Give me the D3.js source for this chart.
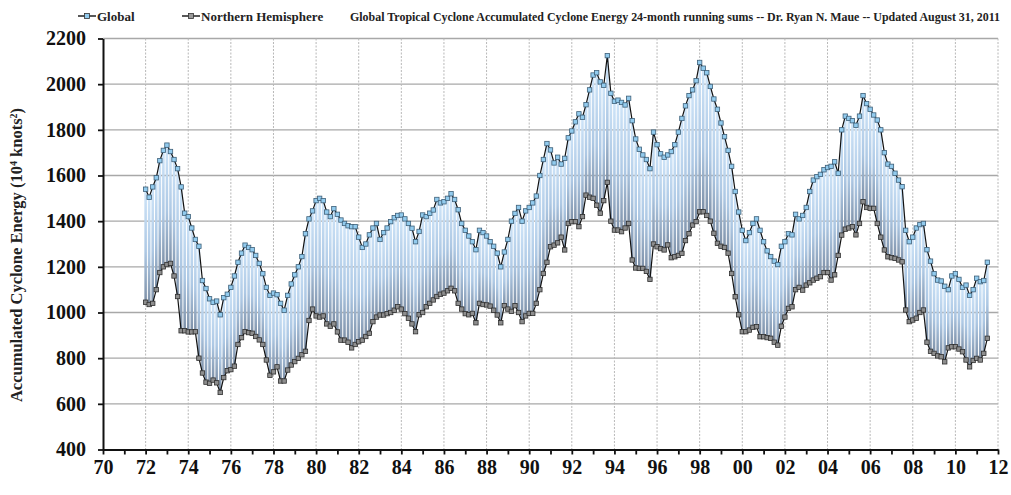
<!DOCTYPE html>
<html>
<head>
<meta charset="utf-8">
<script src="https://cdn.jsdelivr.net/npm/d3@7"></script>
<style>
  body { margin: 0; background: #fff; }
  svg { display: block; font-family: 'Liberation Serif', 'DejaVu Serif', serif; }
</style>
</head>
<body>
<div id="chart"></div>
<script>
// ACE 24-month running sums, one value every 2 months (Jan, Mar, May, Jul, Sep, Nov)
const firstYear = 1972;
const stepsPerYear = 6;

const globalAce = [
  1540, 1505, 1550, 1590, 1665, 1710, // 1972
  1733, 1705, 1670, 1630, 1550, 1435, // 1973
  1420, 1370, 1320, 1290, 1140, 1105, // 1974
  1060, 1045, 1050, 990, 1065, 1080,  // 1975
  1110, 1160, 1220, 1260, 1295, 1285, // 1976
  1275, 1250, 1215, 1170, 1110, 1075, // 1977
  1085, 1078, 1040, 1010, 1075, 1125, // 1978
  1165, 1200, 1245, 1345, 1410, 1445, // 1979
  1490, 1500, 1490, 1440, 1420, 1455, // 1980
  1430, 1405, 1390, 1380, 1376, 1376, // 1981
  1330, 1285, 1300, 1340, 1370, 1390, // 1982
  1320, 1350, 1370, 1398, 1415, 1425, // 1983
  1427, 1410, 1390, 1369, 1310, 1355, // 1984
  1427, 1420, 1435, 1449, 1495, 1480, // 1985
  1485, 1500, 1520, 1495, 1450, 1390, // 1986
  1360, 1335, 1310, 1275, 1360, 1350, // 1987
  1335, 1310, 1290, 1260, 1200, 1265, // 1988
  1320, 1400, 1434, 1460, 1400, 1445, // 1989
  1460, 1480, 1510, 1600, 1670, 1740, // 1990
  1712, 1655, 1680, 1650, 1675, 1765, // 1991
  1795, 1835, 1870, 1855, 1910, 1975, // 1992
  2040, 2050, 2010, 1995, 2125, 1960, // 1993
  1925, 1930, 1920, 1909, 1938, 1840, // 1994
  1760, 1715, 1690, 1670, 1630, 1790, // 1995
  1735, 1695, 1680, 1690, 1705, 1735, // 1996
  1790, 1850, 1905, 1950, 1975, 2015, // 1997
  2095, 2070, 2050, 1990, 1935, 1890, // 1998
  1830, 1770, 1710, 1640, 1530, 1440, // 1999
  1360, 1315, 1350, 1390, 1410, 1360, // 2000
  1310, 1270, 1245, 1225, 1210, 1290, // 2001
  1310, 1345, 1340, 1430, 1410, 1425, // 2002
  1460, 1530, 1580, 1595, 1605, 1625, // 2003
  1635, 1640, 1660, 1610, 1800, 1860, // 2004
  1850, 1840, 1820, 1860, 1950, 1915, // 2005
  1890, 1865, 1843, 1800, 1700, 1650, // 2006
  1640, 1610, 1580, 1551, 1360, 1310, // 2007
  1330, 1370, 1385, 1390, 1275, 1225, // 2008
  1170, 1142, 1138, 1115, 1100, 1160, // 2009
  1170, 1145, 1110, 1120, 1075, 1100, // 2010
  1150, 1135, 1140, 1220              // 2011
];

const nhAce = [
  1045, 1035, 1040, 1100, 1175, 1200, // 1972
  1210, 1215, 1160, 1070, 920, 920,   // 1973
  915, 915, 916, 800, 735, 695,       // 1974
  690, 704, 692, 650, 715, 745,       // 1975
  750, 765, 860, 890, 916, 912,       // 1976
  909, 895, 880, 860, 792, 725,       // 1977
  740, 762, 700, 700, 748, 770,       // 1978
  785, 799, 815, 830, 965, 1015,      // 1979
  985, 980, 985, 950, 940, 950,       // 1980
  915, 879, 879, 870, 845, 860,       // 1981
  872, 879, 895, 909, 960, 980,       // 1982
  989, 989, 995, 1000, 1010, 1025,    // 1983
  1015, 995, 975, 950, 916, 990,      // 1984
  1000, 1025, 1040, 1055, 1070, 1080, // 1985
  1085, 1095, 1106, 1095, 1040, 1015, // 1986
  995, 990, 996, 955, 1040, 1035,     // 1987
  1033, 1028, 1010, 989, 955, 1030,   // 1988
  1015, 1005, 1030, 1000, 960, 985,   // 1989
  996, 996, 1040, 1100, 1171, 1220,   // 1990
  1288, 1295, 1305, 1330, 1274, 1390, // 1991
  1398, 1398, 1376, 1420, 1514, 1505, // 1992
  1500, 1470, 1435, 1490, 1570, 1400, // 1993
  1361, 1361, 1354, 1370, 1390, 1230, // 1994
  1195, 1193, 1193, 1180, 1145, 1300, // 1995
  1288, 1280, 1274, 1296, 1240, 1244, // 1996
  1250, 1259, 1315, 1345, 1383, 1398, // 1997
  1441, 1441, 1425, 1400, 1347, 1303, // 1998
  1290, 1285, 1260, 1171, 1069, 990,  // 1999
  916, 916, 923, 935, 938, 894,       // 2000
  894, 890, 887, 870, 857, 940,       // 2001
  980, 1018, 1025, 1100, 1110, 1098,  // 2002
  1120, 1130, 1142, 1150, 1157, 1175, // 2003
  1175, 1142, 1165, 1250, 1339, 1365, // 2004
  1370, 1376, 1340, 1390, 1485, 1460, // 2005
  1456, 1456, 1390, 1330, 1274, 1244, // 2006
  1240, 1237, 1230, 1222, 1011, 960,  // 2007
  967, 975, 1000, 1011, 870, 830,     // 2008
  821, 810, 806, 784, 845, 850,       // 2009
  850, 840, 828, 792, 762, 790,       // 2010
  799, 792, 821, 887                  // 2011
];

const yTicks = [400, 600, 800, 1000, 1200, 1400, 1600, 1800, 2000, 2200];
const xTickYears = d3.range(1970, 2013);      // a tick every year
const xLabelYears = d3.range(1970, 2013, 2);  // labels every 2 years
const seriesNames = ['Global', 'Northern Hemisphere'];
const titleText = 'Global Tropical Cyclone Accumulated Cyclone Energy 24-month running sums -- Dr. Ryan N. Maue -- Updated August 31, 2011';

const width = 1011;
const height = 495;
const plot = { left: 103, right: 998, top: 38.5, bottom: 449.5 };

// join the two series on their dates
const rows = globalAce.map((g, i) => ({
  t: firstYear + i / stepsPerYear,
  global: g,
  nh: nhAce[i]
}));

const x = d3.scaleLinear().domain([1970, 2012]).range([plot.left, plot.right]);
const y = d3.scaleLinear().domain([400, 2200]).range([plot.bottom, plot.top]);

const svg = d3.select('#chart')
  .append('svg')
  .attr('width', width)
  .attr('height', height);

// gradient for the bars between the two curves
const defs = svg.append('defs');
const grad = defs.append('linearGradient')
  .attr('id', 'barGrad')
  .attr('x1', 0).attr('y1', 0).attr('x2', 0).attr('y2', 1);
grad.append('stop').attr('offset', '0%').attr('stop-color', '#cfe5f9');
grad.append('stop').attr('offset', '55%').attr('stop-color', '#adc8e4');
grad.append('stop').attr('offset', '100%').attr('stop-color', '#7d8fa6');

// horizontal grid
svg.append('g')
  .selectAll('line')
  .data(yTicks.filter(d => d > 400))
  .join('line')
  .attr('x1', plot.left).attr('x2', plot.right)
  .attr('y1', d => y(d)).attr('y2', d => y(d))
  .attr('stroke', '#a8a8a8')
  .attr('stroke-width', 1.3);

// vertical grid (dotted, every 2 years)
svg.append('g')
  .selectAll('line')
  .data(xLabelYears.filter(d => d > 1970))
  .join('line')
  .attr('x1', d => x(d)).attr('x2', d => x(d))
  .attr('y1', plot.top).attr('y2', plot.bottom)
  .attr('stroke', '#b8b8b8')
  .attr('stroke-width', 1)
  .attr('stroke-dasharray', '2,1.5');

// bars from NH to Global
const step = x(firstYear + 1 / stepsPerYear) - x(firstYear);
svg.append('g')
  .selectAll('rect')
  .data(rows)
  .join('rect')
  .attr('x', d => x(d.t) - (step - 1) / 2)
  .attr('width', step - 1)
  .attr('y', d => y(d.global))
  .attr('height', d => y(d.nh) - y(d.global))
  .attr('fill', 'url(#barGrad)');

// lines
const lineGlobal = d3.line().x(d => x(d.t)).y(d => y(d.global));
const lineNh = d3.line().x(d => x(d.t)).y(d => y(d.nh));

svg.append('path')
  .datum(rows)
  .attr('d', lineNh)
  .attr('fill', 'none')
  .attr('stroke', '#111')
  .attr('stroke-width', 1.2);

svg.append('path')
  .datum(rows)
  .attr('d', lineGlobal)
  .attr('fill', 'none')
  .attr('stroke', '#111')
  .attr('stroke-width', 1.2);

// markers
const ms = 4.4;
svg.append('g')
  .selectAll('rect')
  .data(rows)
  .join('rect')
  .attr('x', d => x(d.t) - ms / 2)
  .attr('y', d => y(d.nh) - ms / 2)
  .attr('width', ms).attr('height', ms)
  .attr('fill', '#8e8e8e')
  .attr('stroke', '#2e2e2e')
  .attr('stroke-width', 0.8);

svg.append('g')
  .selectAll('rect')
  .data(rows)
  .join('rect')
  .attr('x', d => x(d.t) - ms / 2)
  .attr('y', d => y(d.global) - ms / 2)
  .attr('width', ms).attr('height', ms)
  .attr('fill', '#92cbee')
  .attr('stroke', '#3d5f78')
  .attr('stroke-width', 0.8);

// axes
const yAxis = svg.append('g')
  .attr('transform', 'translate(' + plot.left + ',0)')
  .call(d3.axisLeft(y)
    .tickValues(yTicks)
    .tickSize(5)
    .tickPadding(12)
    .tickSizeOuter(0)
    .tickFormat(d3.format('d')));

const xAxis = svg.append('g')
  .attr('transform', 'translate(0,' + plot.bottom + ')')
  .call(d3.axisBottom(x)
    .tickValues(xTickYears)
    .tickSize(5)
    .tickPadding(5)
    .tickSizeOuter(0)
    .tickFormat(d => (d % 2 === 0 ? d3.format('02d')(d % 100) : '')));

[yAxis, xAxis].forEach(a => {
  a.select('.domain').attr('stroke', '#111').attr('stroke-width', 2);
  a.selectAll('.tick line').attr('stroke', '#111').attr('stroke-width', 1.8);
  a.selectAll('text')
    .attr('fill', '#111')
    .style('font-family', "'Liberation Serif', serif")
    .style('font-weight', 'bold')
    .style('font-size', '20px');
});

// y axis title
const yTitle = svg.append('text')
  .attr('transform', 'translate(22,' + 255 + ') rotate(-90)')
  .attr('text-anchor', 'middle')
  .style('font-size', '16.5px')
  .style('font-weight', 'bold')
  .attr('fill', '#222');
yTitle.append('tspan').text('Accumulated Cyclone Energy (10');
yTitle.append('tspan').attr('baseline-shift', 'super').style('font-size', '10px').text('4');
yTitle.append('tspan').text(' knots');
yTitle.append('tspan').attr('baseline-shift', 'super').style('font-size', '10px').text('2');
yTitle.append('tspan').text(')');

// legend
const legendX = [78, 182];
const legendFill = ['#92cbee', '#9a9a9a'];
const legend = svg.append('g')
  .selectAll('g')
  .data(seriesNames)
  .join('g')
  .attr('transform', (d, i) => 'translate(' + legendX[i] + ',16)');
legend.append('line')
  .attr('x1', 0).attr('x2', 18)
  .attr('stroke', '#111').attr('stroke-width', 1.4);
legend.append('rect')
  .attr('x', 6.5).attr('y', -2.5)
  .attr('width', 5).attr('height', 5)
  .attr('fill', (d, i) => legendFill[i])
  .attr('stroke', '#333').attr('stroke-width', 0.8);
legend.append('text')
  .attr('x', 19)
  .attr('y', 4.5)
  .style('font-size', '13px')
  .style('font-weight', 'bold')
  .attr('fill', '#222')
  .text(d => d);

svg.append('text')
  .attr('x', 350)
  .attr('y', 20.5)
  .attr('textLength', 650)
  .attr('lengthAdjust', 'spacingAndGlyphs')
  .style('font-size', '11.5px')
  .style('font-weight', 'bold')
  .attr('fill', '#222')
  .text(titleText);
</script>
</body>
</html>
